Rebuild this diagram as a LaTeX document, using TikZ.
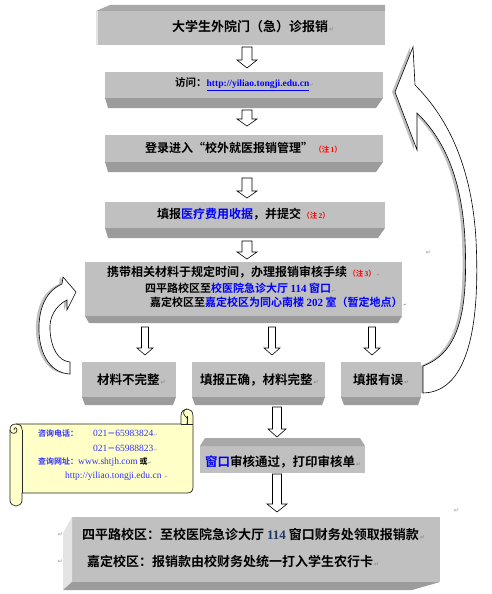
\documentclass[tikz,border=0pt]{standalone}
\usepackage{fontspec}
\newfontfamily\cjk{Noto Sans CJK SC}[BoldFont={Noto Sans CJK SC Bold}]
\newfontfamily\lat{Liberation Serif}
\newfontfamily\dv{DejaVu Sans}
\definecolor{facegray}{HTML}{C0C0C0}
\definecolor{darkstrip}{HTML}{9C9C9C}
\definecolor{topstrip}{HTML}{A8A8A8}
\definecolor{lightstrip}{HTML}{E4E4E4}
\definecolor{linkblue}{HTML}{0000FF}
\definecolor{notered}{HTML}{FF0000}
\definecolor{scrollfill}{HTML}{FFFFC8}
\definecolor{scrollblue}{HTML}{3333FF}
\definecolor{retgray}{HTML}{909090}
\definecolor{navynum}{HTML}{1F3864}
\newcommand\retmark{{\dv\color{retgray}\fontsize{6}{6}\selectfont\,↵}}
\newcommand\tinyret{{\dv\color{retgray}\fontsize{4}{4}\selectfont\,↵}}
\newcommand\note[1]{{\color{notered}\fontsize{7.5}{8}\selectfont\,（注\,{\lat\bfseries #1}）}}
\newcommand\fs[1]{\fontsize{#1}{#1}\selectfont}
\newcommand\dnarrow[7]{%
  \path (#2,#3) coordinate (#1-top) (#2,#4) coordinate (#1-tip);
  \filldraw[blockarrow] (#2-#5,#3) -- (#2+#5,#3) -- (#2+#5,#4-#7) -- (#2+#6,#4-#7) -- (#2,#4) -- (#2-#6,#4-#7) -- (#2-#5,#4-#7) -- cycle;}
\tikzset{
  facebox/.style={fill=facegray,draw=none},
  dstrip/.style={fill=darkstrip,draw=none},
  tstrip/.style={fill=topstrip,draw=none},
  lstrip/.style={fill=lightstrip,draw=none},
  blockarrow/.style={fill=white,draw=black,line width=0.6pt,line join=miter},
  curvearrow/.style={fill=white,draw=black,line width=0.6pt,line join=miter},
  arrowshadow/.style={fill=black!25,draw=none},
  scrollsty/.style={fill=scrollfill,draw=black!85,line width=0.7pt},
  txt/.style={inner sep=0pt,anchor=west,font=\cjk\bfseries},
  stext/.style={inner sep=0pt,anchor=west,text=scrollblue,font=\cjk\bfseries\fs{8}},
  snum/.style={inner sep=0pt,anchor=west,text=scrollblue,font=\lat\fs{9.5}}
}
\begin{document}
\begin{tikzpicture}[x=1pt,y=-1pt]
\useasboundingbox (0,0) rectangle (492,594);
\fill[white] (0,0) rectangle (492,594);

% ---------- curved arrows (behind boxes)
\begin{scope}[xshift=-3pt]
\fill[arrowshadow] (413,47) -- (395,92) -- (417,150) -- (417,113) .. controls (445,140) and (462,180) .. (465,240) .. controls (468,310) and (460,352) .. (423,366) -- (423,393) .. controls (470,392) and (480,320) .. (476,240) .. controls (472,170) and (450,120) .. (415,85) -- cycle;
\fill[arrowshadow] (70,374) .. controls (48,373) and (38,350) .. (39,325) .. controls (40,302) and (50,289) .. (62,284) -- (63,277) -- (76,292) -- (67,310) -- (67,300) .. controls (55,306) and (49,318) .. (50,330) .. controls (51,348) and (58,361) .. (70,362) -- cycle;
\end{scope}
\filldraw[curvearrow] (413,47) -- (395,92) -- (417,150) -- (417,113) .. controls (445,140) and (462,180) .. (465,240) .. controls (468,310) and (460,352) .. (423,366) -- (423,393) .. controls (470,392) and (480,320) .. (476,240) .. controls (472,170) and (450,120) .. (415,85) -- cycle;
\filldraw[curvearrow] (70,374) .. controls (48,373) and (38,350) .. (39,325) .. controls (40,302) and (50,289) .. (62,284) -- (63,277) -- (76,292) -- (67,310) -- (67,300) .. controls (55,306) and (49,318) .. (50,330) .. controls (51,348) and (58,361) .. (70,362) -- cycle;

% ---------- box 1
\fill[facebox] (96,11) rectangle (385,45);
\fill[tstrip] (96,11) -- (110,5) -- (385,5) -- (385,11) -- cycle;
\fill[lstrip] (96,11) rectangle (98,45);
\node[txt,font=\cjk\bfseries\fs{13}] (t1) at (172,27) {大学生外院门（急）诊报销\retmark};

% ---------- box 2
\fill[facebox] (105,72) rectangle (383,98);
\fill[dstrip] (105,98) -- (383,98) -- (376,108) -- (108,108) -- cycle;
\node[txt,font=\cjk\bfseries\fs{10.5}] (t2) at (175,84) {访问：{\lat\bfseries\fs{9.5}\color{linkblue}\underline{http://yiliao.tongji.edu.cn}}\tinyret};

% ---------- box 3
\fill[facebox] (105,135) rectangle (383,162);
\fill[dstrip] (105,162) -- (383,162) -- (376,172) -- (108,172) -- cycle;
\node[txt,font=\cjk\bfseries\fs{12}] (t3) at (145,148) {登录进入“校外就医报销管理”\note{1}};

% ---------- box 4
\fill[facebox] (105,202) rectangle (385,228);
\fill[dstrip] (105,228) -- (385,228) -- (378,238) -- (108,238) -- cycle;
\node[txt,font=\cjk\bfseries\fs{12}] (t4) at (157,214) {填报{\color{linkblue}医疗费用收据}，并提交\note{2}};

% ---------- box 5
\fill[facebox] (85,262) rectangle (402,316);
\fill[dstrip] (85,316) -- (402,316) -- (398,323) -- (89,323) -- cycle;
\node[txt,font=\cjk\bfseries\fs{12}] (t5a) at (107,272) {携带相关材料于规定时间，办理报销审核手续\note{3}\tinyret};
\node[txt,font=\cjk\bfseries\fs{11}] (t5b) at (145,288) {四平路校区至{\color{linkblue}校医院急诊大厅 {\lat\bfseries 114} 窗口}\tinyret};
\node[txt,font=\cjk\bfseries\fs{11}] (t5c) at (150,302) {嘉定校区至{\color{linkblue}嘉定校区为同心南楼 {\lat\bfseries 202} 室（暂定地点）}\tinyret};

% ---------- row boxes
\fill[facebox] (82,362) rectangle (176,397);
\fill[dstrip] (82,397) -- (176,397) -- (173,405) -- (85,405) -- cycle;
\fill[facebox] (192,362) rectangle (325,397);
\fill[dstrip] (192,397) -- (325,397) -- (322,405) -- (195,405) -- cycle;
\fill[facebox] (341,362) rectangle (421,397);
\fill[dstrip] (341,397) -- (421,397) -- (418,405) -- (344,405) -- cycle;
\node[txt,font=\cjk\bfseries\fs{12.5}] (ra) at (97,380) {材料不完整\retmark};
\node[txt,font=\cjk\bfseries\fs{12.5}] (rb) at (200,380) {填报正确，材料完整\retmark};
\node[txt,font=\cjk\bfseries\fs{12.5}] (rc) at (353,380) {填报有误\retmark};

% ---------- box 6
\fill[facebox] (200,446) rectangle (365,473);
\fill[tstrip] (200,446) -- (205,438) -- (360,438) -- (365,446) -- cycle;
\node[txt,font=\cjk\bfseries\fs{12.5}] (t6) at (205,462) {{\color{linkblue}窗口}审核通过，打印审核单\retmark};

% ---------- box 7
\fill[facebox] (72,517) rectangle (440,582);
\fill[lstrip] (63,533) -- (72,517) -- (72,582) -- (63,590) -- cycle;
\fill[dstrip] (63,590) -- (72,582) -- (440,582) -- (412,590) -- cycle;
\node[txt,font=\cjk\bfseries\fs{13}] (t7a) at (82,535) {四平路校区：至校医院急诊大厅 {\lat\bfseries\color{navynum}114} 窗口财务处领取报销款\retmark};
\node[txt,font=\cjk\bfseries\fs{13}] (t7b) at (87,562) {嘉定校区：报销款由校财务处统一打入学生农行卡\retmark};

% ---------- block arrows
\dnarrow{a1}{247}{47}{68}{5}{10}{8}
\dnarrow{a2}{247}{110}{126}{5}{10}{7}
\dnarrow{a3}{247}{178}{198}{5}{10}{7}
\dnarrow{a4}{247}{241}{259}{5}{10}{7}
\dnarrow{a5}{145}{327}{355}{3.5}{8}{7}
\dnarrow{a6}{272}{327}{355}{3.5}{8}{7}
\dnarrow{a7}{372}{327}{355}{3.5}{8}{7}
\dnarrow{a8}{277}{407}{437}{4.5}{9}{8}
\dnarrow{a9}{277}{474}{512}{4.5}{10}{8}

% ---------- scroll note
\filldraw[scrollsty] (10,430) .. controls (10,426) and (12,424) .. (16,424) -- (181,424) -- (181,416) .. controls (181,411) and (184,409) .. (187,409) .. controls (190,409) and (193,411) .. (193,416) -- (193,487) .. controls (193,491) and (191,493) .. (187,493) -- (22,493) -- (22,500) .. controls (22,504) and (19,506) .. (16,506) .. controls (13,506) and (10,504) .. (10,500) -- cycle;
\draw[black!85,line width=0.7pt] (22,430) -- (22,493);
\draw[black!85,line width=0.7pt] (22,430) .. controls (22,426) and (20,424) .. (16,424);
\draw[black!85,line width=0.7pt] (10,430) .. controls (10,434) and (17,435) .. (17,430) .. controls (17,427) and (14,427) .. (14,430);
\draw[black!85,line width=0.7pt] (187,424) -- (181,424);
\draw[black!85,line width=0.7pt] (187,409) .. controls (184,409) and (182,413) .. (185,416) .. controls (188,418) and (188,421) .. (187,424);
\draw[black!85,line width=0.7pt] (187,416) -- (187,424) -- (193,424);
\node[stext] (s1) at (38,433) {咨询电话：};
\node[snum] (s2) at (93,433) {021{\cjk\bfseries\fs{8}－}65983824\tinyret};
\node[snum] (s3) at (93,448) {021{\cjk\bfseries\fs{8}－}65988823\tinyret};
\node[stext] (s4) at (38,462) {查询网址：{\lat\mdseries\fs{9.5}www.shtjh.com} {\color{black}或}\tinyret};
\node[snum] (s5) at (65,476) {http://yiliao.tongji.edu.cn \tinyret};

% ---------- stray paragraph marks
\node[inner sep=0pt] (m1) at (428,253) {\retmark};
\node[inner sep=0pt] (m2) at (456,511) {\retmark};
\node[inner sep=0pt] (m3) at (60,535) {\retmark};
\node[inner sep=0pt] (m4) at (60,562) {\retmark};
\end{tikzpicture}
\end{document}
